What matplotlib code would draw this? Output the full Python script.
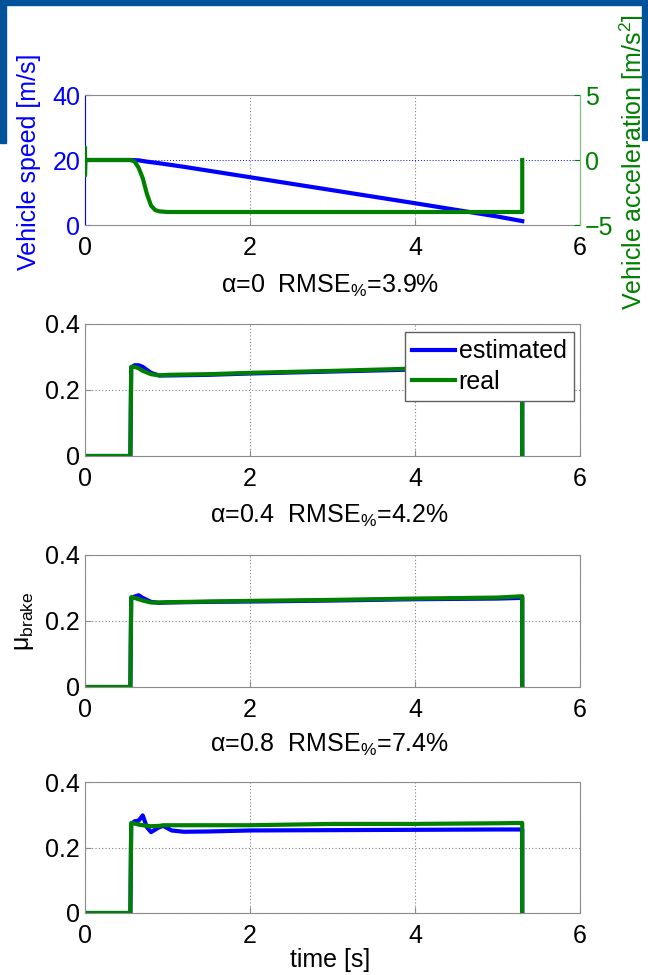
import matplotlib
matplotlib.use("Agg")
import matplotlib.pyplot as plt
from matplotlib.patches import Rectangle

plt.rcParams["font.family"] = ["Liberation Sans", "DejaVu Sans"]
plt.rcParams["mathtext.fontset"] = "custom"
plt.rcParams["mathtext.rm"] = "Liberation Sans"
plt.rcParams["mathtext.it"] = "Liberation Sans"

BLUE = "#0000ff"
GREEN = "#008000"
FRAME = "#00529b"
FS = 18

# vehicle speed [m/s] and acceleration [m/s^2]
t_speed = [0, 0.55, 0.65, 0.75, 0.9, 1.2, 2.0, 3.0, 4.0, 5.0, 5.3]
speed = [20, 20, 19.9, 19.5, 19.0, 17.9, 14.7, 10.7, 6.7, 2.6, 1.2]

t_acc = [0, 0, 0.005, 0.01, 0.55, 0.6, 0.65, 0.7, 0.75, 0.8, 0.85, 0.9, 1.0, 5.3, 5.3]
acc = [0.9, -1.2, 0.0, 0.0, 0.0, -0.1, -0.6, -1.4, -2.6, -3.5, -3.85, -3.95, -4.0, -4.0, 0.0]

# friction coefficient, one pair of series per alpha
t_a0 = [0, 0.55, 0.56, 0.6, 0.65, 0.7, 0.8, 0.9, 1.0, 1.5, 2.0, 3.0, 4.0, 4.5, 5.3, 5.3]
est_a0 = [0, 0, 0.268, 0.275, 0.275, 0.27, 0.252, 0.244, 0.244, 0.246, 0.25, 0.256, 0.262, 0.265, 0.268, 0]
real_a0 = [0, 0, 0.27, 0.27, 0.266, 0.258, 0.248, 0.244, 0.246, 0.248, 0.252, 0.258, 0.265, 0.267, 0.27, 0]

t_a4 = [0, 0.55, 0.56, 0.6, 0.65, 0.7, 0.8, 0.9, 1.0, 1.5, 2.0, 3.0, 4.0, 5.0, 5.3, 5.3]
est_a4 = [0, 0, 0.27, 0.274, 0.278, 0.27, 0.258, 0.255, 0.256, 0.258, 0.259, 0.262, 0.266, 0.268, 0.27, 0]
real_a4 = [0, 0, 0.272, 0.27, 0.266, 0.262, 0.256, 0.256, 0.257, 0.259, 0.261, 0.264, 0.268, 0.271, 0.275, 0]

t_a8 = [0, 0.55, 0.56, 0.6, 0.65, 0.7, 0.75, 0.8, 0.9, 0.95, 1.05, 1.2, 1.5, 2.0, 3.0, 4.0, 5.0, 5.3, 5.3]
est_a8 = [0, 0, 0.27, 0.28, 0.282, 0.298, 0.262, 0.247, 0.262, 0.266, 0.252, 0.248, 0.249, 0.252, 0.253, 0.254, 0.255, 0.255, 0]
real_a8 = [0, 0, 0.275, 0.273, 0.27, 0.268, 0.266, 0.265, 0.266, 0.268, 0.268, 0.268, 0.268, 0.268, 0.272, 0.272, 0.274, 0.275, 0]

titles = [r"α=0  RMSE$_{\%}$=3.9%", r"α=0.4  RMSE$_{\%}$=4.2%", r"α=0.8  RMSE$_{\%}$=7.4%"]

W, H = 648, 975
fig = plt.figure(figsize=(W / 100, H / 100), dpi=100)


def rect(top, bottom, left=85, right=580):
    return [left / W, 1 - bottom / H, (right - left) / W, (bottom - top) / H]


def px(x, y):
    return x / W, 1 - y / H


def style(ax):
    for s in ax.spines.values():
        s.set_color("#8c8c8c")
    ax.tick_params(direction="in", length=4, labelsize=FS, color="#8c8c8c")
    ax.tick_params(axis="x", pad=8)
    ax.tick_params(axis="y", pad=3.5)
    ax.set_xlim(0, 6)
    ax.set_xticks([0, 2, 4, 6])


# top panel: speed and acceleration on two y axes
ax1 = fig.add_axes(rect(95, 225))
style(ax1)
ax1.plot(t_speed, speed, color=BLUE, lw=3)
ax1.set_ylim(0, 40)
ax1.set_yticks([0, 20, 40])
ax1.tick_params(axis="y", colors=BLUE)
ax1.spines["left"].set_color(BLUE)
for xv in [2, 4]:
    ax1.axvline(xv, color="#808080", ls=(0, (1, 2)), lw=0.8, zorder=0)
ax1.axhline(20, color=BLUE, ls=(0, (1, 2)), lw=0.7, zorder=0)

ax1r = ax1.twinx()
ax1r.plot(t_acc, acc, color=GREEN, lw=3)
ax1r.set_ylim(-5, 5)
ax1r.set_yticks([-5, 0, 5])
ax1r.tick_params(axis="y", colors=GREEN, direction="in", length=4, labelsize=FS, pad=3.5)
for s in ax1r.spines.values():
    s.set_visible(False)
ax1r.spines["right"].set_visible(True)
ax1r.spines["right"].set_color("#7fbf7f")
ax1.set_xlim(0, 6)

fig.text(*px(29, 162), "Vehicle speed [m/s]", color=BLUE, fontsize=FS,
         rotation=90, ha="center", va="center")
fig.text(*px(633, 162), r"Vehicle acceleration [m/s$^2$]", color=GREEN, fontsize=FS,
         rotation=90, ha="center", va="center")

# friction panels
mu_sets = [(t_a0, est_a0, real_a0, 324, 456),
           (t_a4, est_a4, real_a4, 555, 687),
           (t_a8, est_a8, real_a8, 782, 913)]
mu_axes = []
for t, est, real, top, bottom in mu_sets:
    ax = fig.add_axes(rect(top, bottom))
    style(ax)
    ax.plot(t, est, color=BLUE, lw=3, label="estimated")
    ax.plot(t, real, color=GREEN, lw=3, label="real")
    ax.set_ylim(0, 0.4)
    ax.set_yticks([0, 0.2, 0.4])
    ax.set_yticklabels(["0", "0.2", "0.4"])
    ax.grid(True, color="#808080", ls=(0, (1, 2)), lw=0.8)
    ax.set_axisbelow(True)
    mu_axes.append(ax)

leg = mu_axes[0].legend(loc="upper right", fontsize=FS, handlelength=1.7, handletextpad=0.15,
                        borderpad=0.3, labelspacing=0.25, borderaxespad=0, fancybox=False,
                        framealpha=1, bbox_to_anchor=(0.988, 0.94))
leg.get_frame().set_edgecolor("#606060")

fig.text(*px(24, 621), r"$\mathregular{\mu_{brake}}$", fontsize=FS,
         rotation=90, ha="center", va="center")
fig.text(*px(330, 967), "time [s]", fontsize=FS, ha="center", va="baseline")

for txt, y in zip(titles, [293, 523, 752]):
    fig.text(*px(330, y), txt, ha="center", va="baseline", fontsize=FS)

# slide frame around the top of the figure
for x0, y0, w, h in [(0, 0, W, 5), (0, 0, 6, 143), (642, 0, 6, 140)]:
    fig.add_artist(Rectangle((x0 / W, 1 - (y0 + h) / H), w / W, h / H,
                             transform=fig.transFigure, color=FRAME, zorder=10))

fig.savefig("out.png", dpi=100)
